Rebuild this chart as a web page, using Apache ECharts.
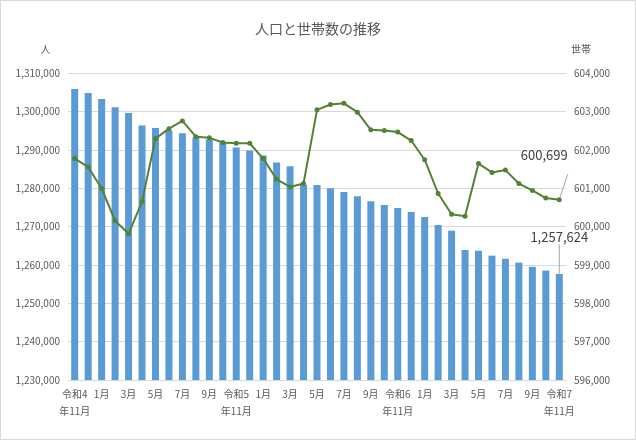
<!DOCTYPE html>
<html><head><meta charset="utf-8">
<script src="https://cdn.jsdelivr.net/npm/echarts@6/dist/echarts.min.js"></script>
<style>html,body{margin:0;padding:0;}#box{width:634px;height:438px;border:1px solid #d9d9d9;}</style>
</head><body><div id="box"></div>
<script>
var months = ['令和4\n年11月','12月','1月','2月','3月','4月','5月','6月','7月','8月','9月','10月',
  '令和5\n年11月','12月','1月','2月','3月','4月','5月','6月','7月','8月','9月','10月',
  '令和6\n年11月','12月','1月','2月','3月','4月','5月','6月','7月','8月','9月','10月','令和7\n年11月'];
var population = [1305800,1304800,1303200,1301100,1299600,1296300,1295700,1295000,1294300,1293200,1292700,1291900,
  1290600,1289800,1288500,1286700,1285700,1280800,1280800,1280000,1279000,1277900,1276600,1275600,
  1274800,1273800,1272500,1270400,1268900,1263900,1263700,1262400,1261600,1260600,1259500,1258500,1257624];
var households = [601770,601550,600990,600150,599810,600650,602290,602550,602750,602340,602310,602190,
  602170,602170,601770,601230,601030,601120,603040,603180,603210,602980,602520,602500,
  602460,602240,601740,600860,600320,600270,601640,601410,601470,601120,600940,600740,600699];

var myChart = echarts.init(document.getElementById('box'));
var txt = '#595959';
var font = 'Noto Sans CJK JP';
var last = months.length - 1;
var option = {
  textStyle: { fontFamily: font },
  title: { text: '人口と世帯数の推移', left: 'center', top: 16,
    textStyle: { color: txt, fontSize: 14, fontWeight: 'normal', fontFamily: font } },
  grid: { left: 67, right: 69, top: 72, bottom: 59 },
  xAxis: {
    type: 'category', data: months,
    axisLine: { lineStyle: { color: '#d9d9d9' } },
    axisTick: { show: false },
    axisLabel: { color: txt, fontSize: 10, interval: 1, lineHeight: 17, margin: 6 }
  },
  yAxis: [
    { type: 'value', name: '人', min: 1230000, max: 1310000, interval: 10000,
      nameTextStyle: { color: txt, fontSize: 10, padding: [0, 0, 4, -45] },
      axisLabel: { color: txt, fontSize: 10, formatter: function (v) { return v.toLocaleString('en-US'); } },
      splitLine: { lineStyle: { color: '#d9d9d9' } } },
    { type: 'value', name: '世帯', min: 596000, max: 604000, interval: 1000,
      nameTextStyle: { color: txt, fontSize: 10, padding: [0, 0, 4, 30] },
      axisLabel: { color: txt, fontSize: 10, formatter: function (v) { return v.toLocaleString('en-US'); } },
      splitLine: { show: false } }
  ],
  series: [
    { name: '人口', type: 'bar', barWidth: 7, itemStyle: { color: '#5b9bd5' },
      data: population.map(function (v, i) {
        return i === last ? { value: v, label: { show: true, position: 'top', distance: 30, offset: [-20, 0],
          color: '#404040', fontSize: 13, formatter: function (p) { return p.value.toLocaleString('en-US'); } },
          labelLine: { show: true, lineStyle: { color: '#a6a6a6' } } } : v;
      }),
      labelLayout: function () { return {}; }
    },
    { name: '世帯', type: 'line', yAxisIndex: 1, symbol: 'circle', symbolSize: 5,
      lineStyle: { color: '#548235', width: 2 }, itemStyle: { color: '#548235' },
      data: households.map(function (v, i) {
        return i === last ? { value: v, label: { show: true, position: 'top', distance: 36, offset: [-15, 0],
          color: '#404040', fontSize: 13, formatter: function (p) { return p.value.toLocaleString('en-US'); } },
          labelLine: { show: true, lineStyle: { color: '#a6a6a6' } } } : v;
      })
    }
  ]
};
myChart.setOption(option);
</script></body></html>
